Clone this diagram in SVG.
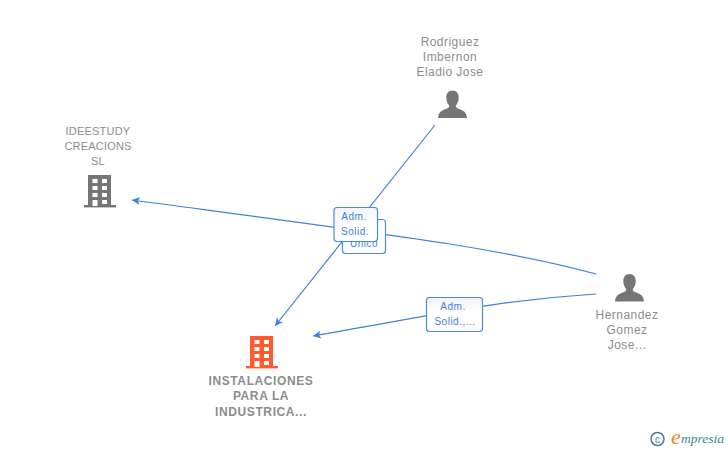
<svg xmlns="http://www.w3.org/2000/svg" width="728" height="450" viewBox="0 0 728 450">
<style>
text{font-family:"Liberation Sans",Arial,sans-serif}
.n{font-size:12px;fill:#8c8c8c;text-anchor:middle;letter-spacing:.45px}
.nb{font-size:12px;fill:#8c8c8c;text-anchor:middle;font-weight:700;letter-spacing:.6px}
.c{fill:none;stroke:#3f80e0;stroke-width:1.2}
.l{fill:#fff;stroke:#4a8ae6;stroke-width:1.2}
.t{font-size:10px;fill:#3f80e0;text-anchor:middle;letter-spacing:.5px}
.g{fill:#757575}
.o{fill:#ff5a30}
.w{fill:#fff}
</style>
<defs>
<marker id="a" markerWidth="12" markerHeight="10" refX="8" refY="4" orient="auto" markerUnits="userSpaceOnUse"><path d="M0 0 L8 4 L0 8 L2 4Z" fill="#3f80e0"/></marker>
<linearGradient id="lg" x1="0" y1="0" x2="0" y2="1"><stop offset="0" stop-color="#f4f4f4"/><stop offset=".5" stop-color="#fff"/></linearGradient>
<g id="bld"><rect x="4" y="0" width="23" height="31"/><rect x="0" y="30" width="32" height="2.4"/></g>
<g id="win" class="w"><rect x="8.500" y="4" width="5" height="4"/><rect x="18" y="4" width="5" height="4"/><rect x="8.500" y="11" width="5" height="4"/><rect x="18" y="11" width="5" height="4"/><rect x="8.500" y="18" width="5" height="4"/><rect x="18" y="18" width="5" height="4"/><rect x="8.500" y="25" width="5" height="6"/><rect x="18" y="25" width="5" height="4"/></g>
<path id="p" d="M14.500 0C10.500 0 8.300 3 8.300 7C8.300 10.500 9.500 13 11.200 15C11.500 16.500 10.500 17.500 8 18.500C3.500 20 0.500 21.500 0 27.500L29 27.500C28.500 21.500 25.500 20 21 18.500C18.500 17.500 17.500 16.500 17.800 15C19.500 13 20.700 10.500 20.700 7C20.700 3 18.500 0 14.500 0Z"/>
</defs>
<g id="connectors">
<path class="c" d="M435 125L275 326" marker-end="url(#a)"/>
<path class="c" d="M596 274C500 248 400 236 132 200" marker-end="url(#a)"/>
<path class="c" d="M596 294C500 300 440 314 313 336" marker-end="url(#a)"/>
</g>
<g id="edge-unico"><rect class="l" x="342.500" y="219.500" width="43" height="34" rx="3"/><text class="t" x="364" y="247">Unico</text></g>
<g id="edge-adm1"><rect class="l" style="fill:url(#lg)" x="334" y="207.500" width="43.500" height="34" rx="3"/><text class="t" x="354" y="220">Adm.</text><text class="t" x="355" y="235">Solid.</text></g>
<g id="edge-adm2"><rect class="l" style="fill:url(#lg)" x="426.500" y="297.500" width="56" height="34" rx="3"/><text class="t" x="453" y="310">Adm.</text><text class="t" x="455" y="325">Solid.,...</text></g>
<g id="node-ideestudy"><text class="n" style="font-size:11px;letter-spacing:.2px" x="98" y="135">IDEESTUDY</text><text class="n" style="font-size:11px;letter-spacing:.2px" x="98" y="150">CREACIONS</text><text class="n" style="font-size:11px;letter-spacing:.2px" x="98" y="165">SL</text><use href="#bld" class="g" x="84" y="175"/><use href="#win" x="84" y="175"/></g>
<g id="node-instalaciones"><use href="#bld" class="o" x="246" y="336"/><use href="#win" x="246" y="336"/><text class="nb" x="261" y="385">INSTALACIONES</text><text class="nb" x="261" y="400">PARA LA</text><text class="nb" x="261" y="416">INDUSTRICA...</text></g>
<g id="node-rodriguez"><text class="n" x="450" y="46">Rodriguez</text><text class="n" x="450" y="61">Imbernon</text><text class="n" x="450" y="76">Eladio Jose</text><use href="#p" class="g" x="438" y="90.500"/></g>
<g id="node-hernandez"><use href="#p" class="g" x="615" y="274"/><text class="n" x="627" y="319">Hernandez</text><text class="n" x="627" y="334">Gomez</text><text class="n" x="627" y="349">Jose...</text></g>
<g id="watermark"><circle cx="657.500" cy="439" r="6.500" fill="none" stroke="#3f7f9f" stroke-width="1.500"/><text x="657.500" y="442.500" font-size="10" fill="#3f7f9f" text-anchor="middle">c</text><text x="671" y="444" style="font-family:'Liberation Serif',serif;font-size:22px" font-style="italic" fill="#f08a1d">e</text><text x="681" y="443" style="font-family:'Liberation Serif',serif;font-size:13.500px" font-style="italic" fill="#3f7f9f">mpresia</text></g>
</svg>
